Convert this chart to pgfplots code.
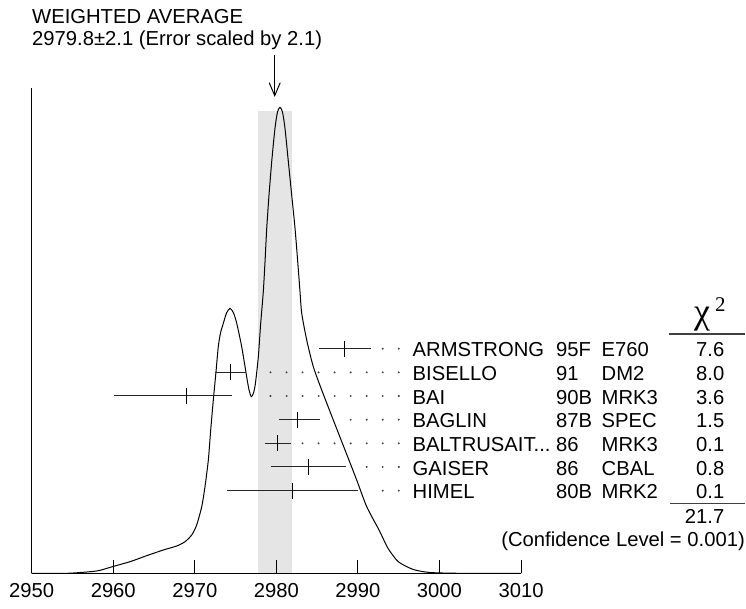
\documentclass[border=0pt]{standalone}
\usepackage{fontspec}
\setmainfont{Liberation Sans}
\newfontfamily\seriffont{Liberation Serif}
\usepackage{pgfplots}
\pgfplotsset{compat=1.18}
\usepackage{pgfplotstable}
\usetikzlibrary{arrows.meta}
\newcommand{\fs}{\fontsize{20.3}{24}\selectfont}

\pgfplotstableread{
x y xm xp
2988.3 224.8 3.1 3.3
2974.4 201.1 1.9 1.9
2969.0 177.5 8.9 5.6
2982.6 153.8 2.3 2.7
2980.2 130.1 1.6 1.6
2984.0 106.5 4.6 4.6
2982.0 82.8 8.0 8.0
}\meas

\begin{document}
\begin{tikzpicture}[x=1bp,y=1bp]
\begin{axis}[
  at={(0,0)}, anchor=south west,
  scale only axis, width=489.3bp, height=485.2bp,
  xmin=2950, xmax=3010, ymin=0, ymax=485.2,
  axis x line*=bottom, axis y line*=left,
  axis line style={line width=1.2bp, black},
  xtick={2950,2960,...,3010}, ytick=\empty,
  scaled x ticks=false,
  tick align=inside, major tick length=13bp,
  tick style={line width=1bp, black},
  xticklabel style={font=\fs, anchor=north, inner sep=0pt, yshift=-9.5bp},
  /pgf/number format/assume math mode=true,
  /pgf/number format/set thousands separator={},
  axis on top=true,
  clip=false,
]
% weighted average band
\addplot[draw=none, fill=black!10] coordinates {(2977.7,462.8) (2981.9,462.8)} \closedcycle;
% ideogram
\addplot[black, line width=1bp, smooth, tension=0.4] coordinates {
(2950.00,0) (2952.24,0.1) (2954.70,0.3) (2957.97,2.5) (2959.88,6.8) (2962.05,11.8)
(2964.10,17.8) (2966.14,23.5) (2967.78,27.5) (2968.80,31.8) (2969.62,38.5) (2970.23,48.5)
(2970.85,66.8) (2971.25,86.8) (2971.66,113.5) (2971.95,143.5) (2972.27,173.5) (2972.60,201.8)
(2972.88,226.8) (2973.15,240.5) (2973.50,250.2) (2973.89,260.5) (2974.32,265.2) (2974.75,260.5)
(2975.14,250.2) (2975.75,226.8) (2976.36,196.8) (2976.65,183.5) (2976.93,176.8) (2977.20,180.5)
(2977.44,190.5) (2977.79,216.8) (2978.08,250.2) (2978.40,281.8) (2978.61,311.8) (2978.82,345.2)
(2979.10,378.5) (2979.43,411.8) (2979.83,445.2) (2980.14,461.5) (2980.45,466.2) (2980.75,461.5)
(2981.06,445.2) (2981.47,411.8) (2981.88,378.5) (2982.29,345.2) (2982.62,311.8) (2982.90,281.8)
(2983.11,260.2) (2983.72,233.5) (2984.53,206.8) (2985.56,183.5) (2986.98,153.5) (2988.42,123.5)
(2989.85,93.5) (2991.08,66.8) (2992.59,43.5) (2993.69,25.2) (2994.95,11.8) (2996.79,4.0)
(2998.84,1.0) (3002.52,0.2) (3010,0)};
% measurements
\addplot[only marks, mark=|, mark size=8bp, mark options={black, line width=1bp},
  error bars/.cd, x dir=both, x explicit, error mark=none,
  error bar style={line width=1bp, black!85}]
  table[x=x, y=y, x error plus=xp, x error minus=xm] {\meas};
% dotted leaders
\addplot[only marks, mark=*, mark size=0.75bp, black!75] coordinates {
(2993.04,224.8) (2995.01,224.8)
(2979.28,201.1) (2981.25,201.1) (2983.21,201.1) (2985.18,201.1) (2987.14,201.1) (2989.11,201.1) (2991.08,201.1) (2993.04,201.1) (2995.01,201.1)
(2979.28,177.5) (2981.25,177.5) (2983.21,177.5) (2985.18,177.5) (2987.14,177.5) (2989.11,177.5) (2991.08,177.5) (2993.04,177.5) (2995.01,177.5)
(2989.11,153.8) (2991.08,153.8) (2993.04,153.8) (2995.01,153.8)
(2983.21,130.1) (2985.18,130.1) (2987.14,130.1) (2989.11,130.1) (2991.08,130.1) (2993.04,130.1) (2995.01,130.1)
(2991.08,106.5) (2993.04,106.5) (2995.01,106.5)
(2993.04,82.8) (2995.01,82.8)};
\draw[-{Straight Barb[length=13bp,width=11bp]}, line width=1bp] (axis cs:2979.8,518.5) -- (axis cs:2979.8,476.5);
\end{axis}
\begin{scope}[shift={(-31.7,573.5)}, y=-1bp, every node/.style={inner sep=0pt, font=\fs}]
\path (0,0) rectangle (746,609);
\node[anchor=base west] at (32,23.3) {WEIGHTED AVERAGE};
\node[anchor=base west] at (32,45.3) {2979.8±2.1 (Error scaled by 2.1)};
% table rows
\node[anchor=base west] at (412.5,357.0) {ARMSTRONG};
\node[anchor=base west] at (556,357.0) {95F};
\node[anchor=base west] at (601.5,357.0) {E760};
\node[anchor=base east] at (724.5,357.0) {7.6};
\node[anchor=base west] at (412.5,380.7) {BISELLO};
\node[anchor=base west] at (556,380.7) {91};
\node[anchor=base west] at (601.5,380.7) {DM2};
\node[anchor=base east] at (724.5,380.7) {8.0};
\node[anchor=base west] at (412.5,404.3) {BAI};
\node[anchor=base west] at (556,404.3) {90B};
\node[anchor=base west] at (601.5,404.3) {MRK3};
\node[anchor=base east] at (724.5,404.3) {3.6};
\node[anchor=base west] at (412.5,428.0) {BAGLIN};
\node[anchor=base west] at (556,428.0) {87B};
\node[anchor=base west] at (601.5,428.0) {SPEC};
\node[anchor=base east] at (724.5,428.0) {1.5};
\node[anchor=base west] at (412.5,451.7) {BALTRUSAIT...};
\node[anchor=base west] at (556,451.7) {86};
\node[anchor=base west] at (601.5,451.7) {MRK3};
\node[anchor=base east] at (724.5,451.7) {0.1};
\node[anchor=base west] at (412.5,475.3) {GAISER};
\node[anchor=base west] at (556,475.3) {86};
\node[anchor=base west] at (601.5,475.3) {CBAL};
\node[anchor=base east] at (724.5,475.3) {0.8};
\node[anchor=base west] at (412.5,499.0) {HIMEL};
\node[anchor=base west] at (556,499.0) {80B};
\node[anchor=base west] at (601.5,499.0) {MRK2};
\node[anchor=base east] at (724.5,499.0) {0.1};
% chi2 header
\node[anchor=base west, font=\seriffont\fontsize{36}{36}\selectfont] at (694,323.3) {χ};
\node[anchor=base west, font=\seriffont\fontsize{21}{21}\selectfont] at (715,311.7) {2};
\draw[line width=1.1bp, black!75] (669.3,334) -- (745.4,334);
\draw[line width=1.1bp, black!75] (670,503.5) -- (745.4,503.5);
\node[anchor=base east] at (724.5,523.5) {21.7};
\node[anchor=base east] at (745,547) {(Confidence Level = 0.001)};
\end{scope}
\end{tikzpicture}
\end{document}
